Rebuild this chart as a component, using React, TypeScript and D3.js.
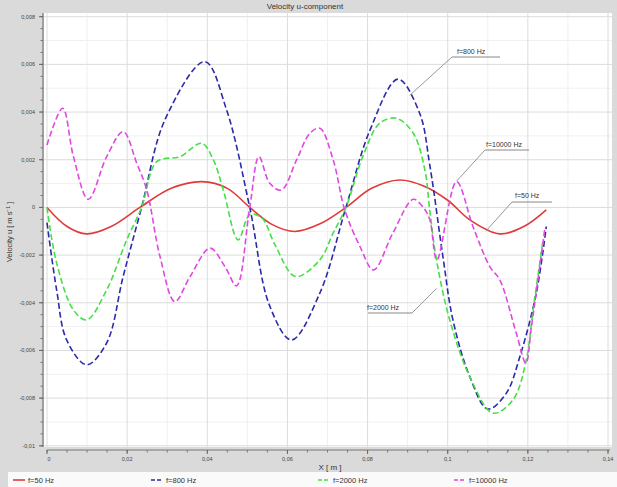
import React from "react";
import * as d3 from "d3";

const W = 617;
const H = 487;

const xTicks = [0, 0.02, 0.04, 0.06, 0.08, 0.1, 0.12, 0.14];
const xTickLabels = ["0", "0,02", "0,04", "0,06", "0,08", "0,1", "0,12", "0,14"];
const yTicks = [0.008, 0.006, 0.004, 0.002, 0, -0.002, -0.004, -0.006, -0.008, -0.01];
const yTickLabels = ["0,008", "0,006", "0,004", "0,002", "0", "-0,002", "-0,004", "-0,006", "-0,008", "-0,01"];

const seriesNames = ["f=50 Hz", "f=800 Hz", "f=2000 Hz", "f=10000 Hz"];
const seriesColors = ["#e03a3a", "#2a2aaa", "#44e044", "#e048e0"];

const redX = [0, 0.005, 0.0099, 0.016, 0.0232, 0.031, 0.0386, 0.045, 0.0506, 0.056, 0.0618, 0.068, 0.0746, 0.081, 0.088, 0.094, 0.1, 0.1055, 0.113, 0.119, 0.1246];
const redY = [0, -0.0008, -0.00111, -0.0008, 0, 0.0008, 0.00108, 0.0008, 0, -0.0007, -0.00101, -0.0007, 0, 0.0008, 0.00115, 0.0009, 0.0003, -0.00052, -0.00111, -0.0008, -0.0001];

const blueX = [0, 0.0024, 0.0049, 0.0099, 0.0149, 0.019, 0.0236, 0.0295, 0.0394, 0.0448, 0.0506, 0.0555, 0.061, 0.0681, 0.0746, 0.0805, 0.0876, 0.093, 0.0955, 0.0988, 0.1013, 0.1055, 0.11, 0.1146, 0.118, 0.1221, 0.1246];
const blueY = [-0.00064, -0.00346, -0.00556, -0.0066, -0.00568, -0.0029, 0, 0.0037, 0.00611, 0.0041, 0, -0.0041, -0.00556, -0.00359, 0, 0.0032, 0.00538, 0.00395, 0.0018, -0.00206, -0.00472, -0.0071, -0.00846, -0.0078, -0.00626, -0.0036, -0.0008];

const greenX = [0, 0.0024, 0.0066, 0.0099, 0.0149, 0.0199, 0.0236, 0.0274, 0.0332, 0.0386, 0.0415, 0.044, 0.0477, 0.0506, 0.0536, 0.0569, 0.062, 0.0681, 0.0714, 0.0746, 0.0788, 0.083, 0.0872, 0.0914, 0.0943, 0.0955, 0.0972, 0.1005, 0.1055, 0.1113, 0.1163, 0.1196, 0.1213, 0.1238];
const greenY = [0, -0.00233, -0.0043, -0.00472, -0.00346, -0.00136, 0, 0.00192, 0.00213, 0.00269, 0.002, 0.00073, -0.00136, -0.0003, -0.00044, -0.00157, -0.0029, -0.0022, -0.00108, 0, 0.00213, 0.00353, 0.00374, 0.00311, 0.00157, -0.0001, -0.0022, -0.00472, -0.0071, -0.00863, -0.00807, -0.0064, -0.0043, -0.00136];

const magX = [0, 0.0039, 0.0066, 0.0103, 0.0149, 0.019, 0.0224, 0.0249, 0.0282, 0.0319, 0.0357, 0.0407, 0.0444, 0.0473, 0.0506, 0.0529, 0.0556, 0.0585, 0.0623, 0.0656, 0.0681, 0.0714, 0.0743, 0.0781, 0.0815, 0.0863, 0.0914, 0.0939, 0.0955, 0.0973, 0.1022, 0.1063, 0.1105, 0.113, 0.1171, 0.1195, 0.1209, 0.1242];
const magY = [0.00262, 0.00416, 0.00213, 0.00034, 0.00213, 0.00318, 0.00185, 0.00073, -0.00206, -0.00395, -0.0029, -0.00171, -0.00248, -0.00329, 0, 0.00213, 0.00101, 0.00073, 0.002, 0.00311, 0.00332, 0.002, -0.0001, -0.00164, -0.00262, -0.00108, 0.00034, 0, -0.0005, -0.0022, 0.00108, -0.0008, -0.00248, -0.00304, -0.00527, -0.00653, -0.005, -0.00094];

const seriesX = [redX, blueX, greenX, magX];
const seriesY = [redY, blueY, greenY, magY];
const seriesDash = ["none", "6,3", "6,3", "6,3"];

const annLabels = ["f=800 Hz", "f=10000 Hz", "f=50 Hz", "f=2000 Hz"];

export default function App() {
  const x = d3.scaleLinear().domain([0, 0.14]).range([47, 608]);
  const y = d3.scaleLinear().domain([-0.01, 0.008]).range([445.8, 16.7]);

  const line = d3
    .line<[number, number]>()
    .x((d) => x(d[0]))
    .y((d) => y(d[1]))
    .curve(d3.curveCatmullRom.alpha(0.5));

  const xMinor = d3.range(0, 0.1401, 0.005);
  const yMinor = d3.range(-0.01, 0.00801, 0.0005);
  const xGridMinor = d3.range(0.01, 0.14, 0.02);
  const yGridMinor = d3.range(-0.009, 0.008, 0.002);

  const ann = [
    { tx: 457, ty: 54, ux1: 452, ux2: 500, uy: 57, px: x(0.0905), py: y(0.0047) },
    { tx: 486, ty: 147, ux1: 485, ux2: 529, uy: 150, px: x(0.1022), py: y(0.0011) },
    { tx: 515, ty: 198, ux1: 512, ux2: 552, uy: 202, px: x(0.1095), py: y(-0.001) },
    { tx: 367, ty: 310, ux1: 368, ux2: 412, uy: 313, px: x(0.0972), py: y(-0.0034) },
  ];

  const font = "Liberation Sans, Arial, sans-serif";

  return (
    <svg width={W} height={H} style={{ position: "absolute", left: 0, top: 0 }} fontFamily={font}>
      <rect x={0} y={0} width={W} height={H} fill="#dadada" />
      <rect x={8} y={472} width={W - 8} height={15} fill="#fafafa" />
      <text x={305} y={9} fontSize={8} textAnchor="middle" fill="#333">
        Velocity u-component
      </text>
      <rect x={44} y={13} width={568} height={434} fill="#ffffff" />
      {xGridMinor.map((v, i) => (
        <line key={"gxm" + i} x1={x(v)} x2={x(v)} y1={13} y2={447} stroke="#f0f0f0" strokeWidth={1} />
      ))}
      {yGridMinor.map((v, i) => (
        <line key={"gym" + i} x1={44} x2={612} y1={y(v)} y2={y(v)} stroke="#f0f0f0" strokeWidth={1} />
      ))}
      {xTicks.map((v, i) => (
        <line key={"gx" + i} x1={x(v)} x2={x(v)} y1={13} y2={447} stroke="#dcdcdc" strokeWidth={1} />
      ))}
      {yTicks.map((v, i) => (
        <line key={"gy" + i} x1={44} x2={612} y1={y(v)} y2={y(v)} stroke="#dcdcdc" strokeWidth={1} />
      ))}
      <line x1={43} x2={43} y1={13} y2={447} stroke="#777" strokeWidth={1.2} />
      {yMinor.map((v, i) => (
        <line key={"ymt" + i} x1={40.5} x2={43} y1={y(v)} y2={y(v)} stroke="#777" strokeWidth={1} />
      ))}
      {yTicks.map((v, i) => (
        <g key={"yt" + i}>
          <line x1={39} x2={43} y1={y(v)} y2={y(v)} stroke="#666" strokeWidth={1} />
          <text x={35} y={y(v) + 2} fontSize={5.5} textAnchor="end" fill="#444">
            {yTickLabels[i]}
          </text>
        </g>
      ))}
      <line x1={47} x2={610} y1={450} y2={450} stroke="#777" strokeWidth={1.2} />
      {xMinor.map((v, i) => (
        <line key={"xmt" + i} x1={x(v)} x2={x(v)} y1={450} y2={452.5} stroke="#777" strokeWidth={1} />
      ))}
      {xTicks.map((v, i) => (
        <g key={"xt" + i}>
          <line x1={x(v)} x2={x(v)} y1={450} y2={454} stroke="#666" strokeWidth={1} />
          <text x={x(v) + (i === 0 ? 2 : 0)} y={461} fontSize={5.5} textAnchor="middle" fill="#444">
            {xTickLabels[i]}
          </text>
        </g>
      ))}
      <text x={330} y={470} fontSize={8} textAnchor="middle" fill="#333">
        X [ m ]
      </text>
      <text transform="translate(12,232) rotate(-90)" fontSize={7.5} textAnchor="middle" fill="#333">
        Velocity u [ m s⁻¹ ]
      </text>
      {seriesX.map((xs, si) => {
        const pts: [number, number][] = xs.map((v, j) => [v, seriesY[si][j]]);
        return (
          <path
            key={"s" + si}
            d={line(pts) || ""}
            fill="none"
            stroke={seriesColors[si]}
            strokeWidth={1.6}
            strokeDasharray={seriesDash[si]}
          />
        );
      })}
      {ann.map((a, i) => (
        <g key={"a" + i}>
          <line x1={a.ux1} x2={a.ux2} y1={a.uy} y2={a.uy} stroke="#888" strokeWidth={1} />
          <line x1={i === 3 ? a.ux2 : a.ux1} x2={a.px} y1={a.uy} y2={a.py} stroke="#999" strokeWidth={1} />
          <text x={a.tx} y={a.ty} fontSize={7} fill="#333">
            {annLabels[i]}
          </text>
        </g>
      ))}
      {seriesNames.map((n, i) => {
        const lx = [13, 151, 318, 454][i];
        return (
          <g key={"l" + i}>
            <line x1={lx} x2={lx + 12} y1={480} y2={480} stroke={seriesColors[i]} strokeWidth={1.6} strokeDasharray={i === 0 ? "none" : "4,2"} />
            <text x={lx + 15} y={483} fontSize={7.5} fill="#333">
              {n}
            </text>
          </g>
        );
      })}
    </svg>
  );
}
